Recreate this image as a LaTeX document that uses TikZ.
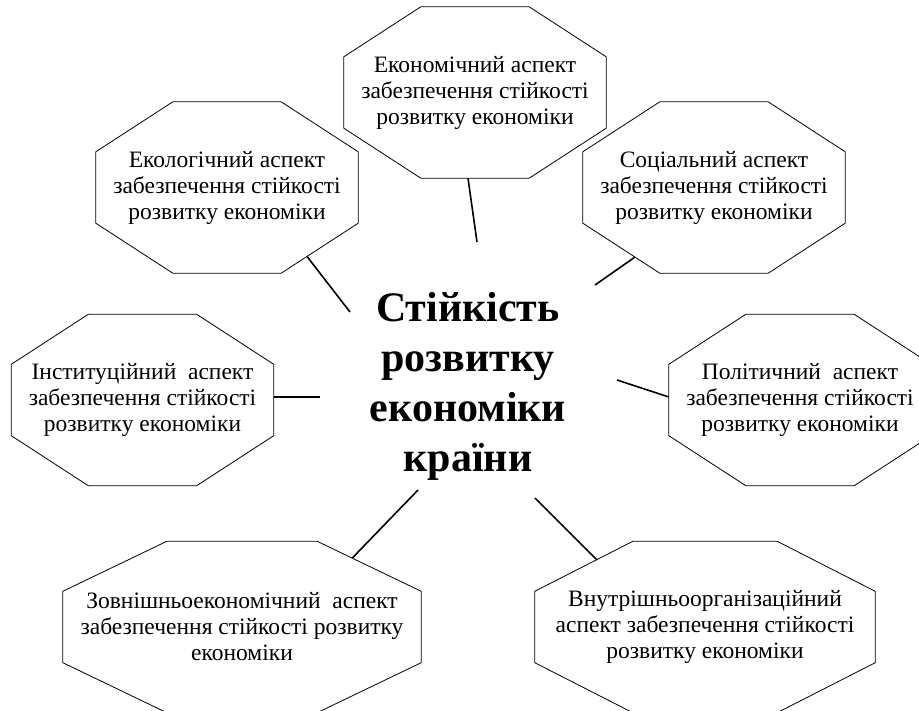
\documentclass[tikz,border=0pt]{standalone}
\usepackage{fontspec}
\setmainfont{Liberation Serif}

\tikzset{
  aspect/.style={align=center, inner sep=0pt, font=\fontsize{23.5}{26}\selectfont,
    minimum width=262pt, minimum height=171pt},
  core/.style={align=center, font=\bfseries\fontsize{42}{50}\selectfont},
  frame/.style={line width=0.8pt},
  link/.style={line width=1.6pt}
}

\begin{document}
\begin{tikzpicture}[x=1pt,y=-1pt]

    \path[use as bounding box, clip] (0,0) rectangle (919,711);

    % centre
    \node[core] (core) at (468,386) {Стійкість\\розвитку\\економіки\\країни};

    % aspects
    \node[aspect] (econ) at (475,92.5) {Економічний аспект\\забезпечення стійкості\\розвитку економіки};
    \node[aspect] (ecol) at (227,187.5) {Екологічний аспект\\забезпечення стійкості\\розвитку економіки};
    \node[aspect] (soc) at (714,187.5) {Соціальний аспект\\забезпечення стійкості\\розвитку економіки};
    \node[aspect] (inst) at (142.5,400) {Інституційний\ \ аспект\\забезпечення стійкості\\розвитку економіки};
    \node[aspect] (pol) at (800,400) {Політичний\ \ аспект\\забезпечення стійкості\\розвитку економіки};
    \node[aspect, minimum width=358pt] (ext) at (242,627) {Зовнішньоекономічний\ \ аспект\\забезпечення стійкості розвитку\\економіки};
    \node[aspect, minimum width=340pt] (int) at (705,627) {Внутрішньоорганізаційний\\аспект забезпечення стійкості\\розвитку економіки};

    % octagon frames
    \foreach \n/\c in {econ/77pt, ecol/77pt, soc/77pt, inst/77pt, pol/77pt, ext/104pt, int/98pt}
      \draw[frame] ([xshift=\c]\n.north west) -- ([xshift=-\c]\n.north east)
        -- ([yshift=-50pt]\n.north east) -- ([yshift=50pt]\n.south east)
        -- ([xshift=-\c]\n.south east) -- ([xshift=\c]\n.south west)
        -- ([yshift=50pt]\n.south west) -- ([yshift=-50pt]\n.north west) -- cycle;

    % free ends near the centre
    \coordinate (e1) at (477,242);
    \coordinate (e2) at (350,312);
    \coordinate (e3) at (595,285);
    \coordinate (e4) at (320,397);
    \coordinate (e5) at (617,380);
    \coordinate (e6) at (418,490);
    \coordinate (e7) at (535,498);

    % edges
    \draw[link] ([xshift=-7pt]econ.south) -- (e1); % economic
    \draw[link] ([shift={(-51pt,16.5pt)}]ecol.south east) -- (e2); % ecological
    \draw[link] ([shift={(52pt,16pt)}]soc.south west) -- (e3); % social
    \draw[link] ([yshift=3pt]inst.east) -- (e4); % institutional
    \draw[link] ([yshift=3pt]pol.west) -- (e5); % political
    \draw[link] ([shift={(-69pt,-16.8pt)}]ext.north east) -- (e6); % external
    \draw[link] ([shift={(62pt,-18.4pt)}]int.north west) -- (e7); % internal

\end{tikzpicture}
\end{document}
